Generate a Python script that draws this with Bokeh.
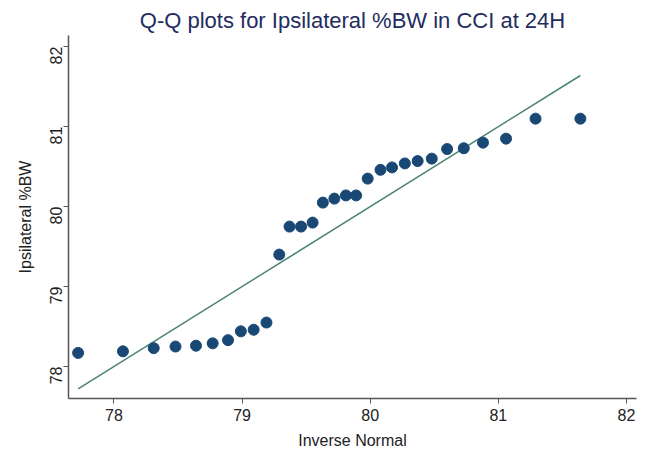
import math
from bokeh.plotting import figure
from bokeh.embed import file_html
from bokeh.resources import INLINE
from bokeh.models import FixedTicker, Range1d

# Data
inverse_normal = [77.72, 78.07, 78.31, 78.48, 78.64, 78.77, 78.89, 78.99, 79.09, 79.19,
                  79.29, 79.37, 79.46, 79.55, 79.63, 79.72, 79.81, 79.89, 79.98, 80.08,
                  80.17, 80.27, 80.37, 80.48, 80.60, 80.73, 80.88, 81.06, 81.29, 81.64]
ipsilateral_bw = [78.17, 78.19, 78.23, 78.25, 78.26, 78.29, 78.33, 78.44, 78.46, 78.55,
                  79.40, 79.75, 79.75, 79.80, 80.05, 80.10, 80.14, 80.14, 80.35, 80.46,
                  80.49, 80.54, 80.57, 80.60, 80.72, 80.73, 80.80, 80.85, 81.10, 81.10]
ref_line = [min(inverse_normal), max(inverse_normal)]
ticks = [78, 79, 80, 81, 82]

FONT = "Liberation Sans"
p = figure(width=648, height=453, output_backend="svg", toolbar_location=None,
           x_range=Range1d(77.645, 82.078), y_range=Range1d(77.6, 82.14),
           min_border_left=68, min_border_right=12, min_border_bottom=55, min_border_top=35)

p.title.text = "Q-Q plots for Ipsilateral %BW in CCI at 24H"
p.title.align = "center"
p.title.text_font = FONT
p.title.text_font_size = "22px"
p.title.text_font_style = "normal"
p.title.text_color = "#232c5e"
p.title.offset = 0
p.title.standoff = 6

p.line(ref_line, ref_line, line_color="#4e8575", line_width=1.6)
p.scatter(inverse_normal, ipsilateral_bw, size=11, fill_color="#1a4875", line_color="#1a4875")

p.xgrid.visible = False
p.ygrid.visible = False
p.outline_line_color = None
p.background_fill_color = "white"
p.border_fill_color = "white"

for ax in (p.xaxis[0], p.yaxis[0]):
    ax.ticker = FixedTicker(ticks=ticks)
    ax.minor_tick_line_color = None
    ax.axis_line_color = "#555555"
    ax.axis_line_width = 1.5
    ax.major_tick_line_color = "#555555"
    ax.major_tick_in = 0
    ax.major_tick_out = 5
    ax.major_label_text_font = FONT
    ax.major_label_text_font_size = "16px"
    ax.major_label_text_color = "#222222"
    ax.axis_label_text_font = FONT
    ax.axis_label_text_font_size = "16px"
    ax.axis_label_text_font_style = "normal"
    ax.axis_label_text_color = "#222222"

p.xaxis.axis_label = "Inverse Normal"
p.yaxis.axis_label = "Ipsilateral %BW"
p.yaxis.major_label_orientation = math.pi / 2
p.xaxis.major_label_standoff = 5
p.yaxis.major_label_standoff = 7
p.xaxis.axis_label_standoff = 8
p.yaxis.axis_label_standoff = 8

open("out.html", "w").write(file_html(p, INLINE))
